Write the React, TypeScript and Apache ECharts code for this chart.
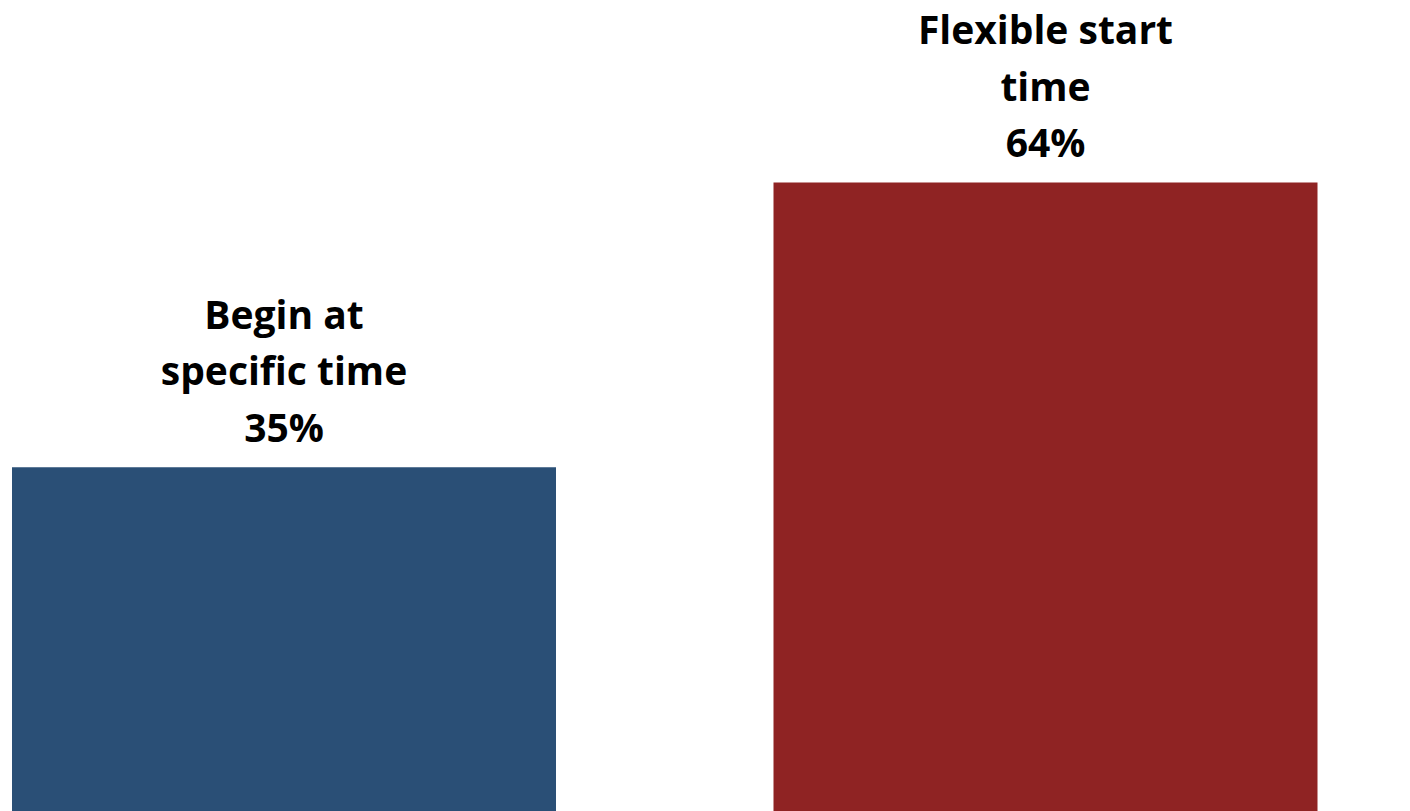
import React, { useEffect, useRef } from "react";
import * as echarts from "echarts";

const categoryLine1 = ["Begin at", "Flexible start"];
const categoryLine2 = ["specific time", "time"];
const values = [35, 64];
const colors = ["#2A4F76", "#8F2323"];
const categories = categoryLine1.map((l, i) => `${l} ${categoryLine2[i]}`);

const textBase = {
  fontFamily: "Open Sans",
  fontWeight: "bold" as const,
  fontSize: 39,
  color: "#000",
  align: "center" as const,
};

export default function App() {
  const ref = useRef<HTMLDivElement>(null);
  useEffect(() => {
    if (!ref.current) return;
    const chart = echarts.init(ref.current, null, { renderer: "svg" });
    chart.setOption({
      animation: false,
      grid: { left: 284, right: 364.5, top: 25.4, bottom: 0 },
      xAxis: {
        type: "category",
        data: categories,
        boundaryGap: false,
        show: false,
      },
      yAxis: { type: "value", min: 0, max: 80, show: false },
      series: [
        {
          type: "bar",
          barWidth: 544,
          data: values.map((v, i) => ({ value: v, itemStyle: { color: colors[i] } })),
          label: {
            show: true,
            position: "top",
            distance: 15,
            ...textBase,
            formatter: (p: any) =>
              `{a|${categoryLine1[p.dataIndex]}}\n{b|${categoryLine2[p.dataIndex]}}\n{c|${p.value}%}`,
            rich: {
              a: { ...textBase, lineHeight: 52 },
              b: { ...textBase, lineHeight: 61 },
              c: { ...textBase, lineHeight: 52 },
            },
          },
        },
      ],
    });
    return () => chart.dispose();
  }, []);
  return (
    <div
      ref={ref}
      style={{ position: "absolute", left: 0, top: 0, width: 1410, height: 811, background: "#fff" }}
    />
  );
}
